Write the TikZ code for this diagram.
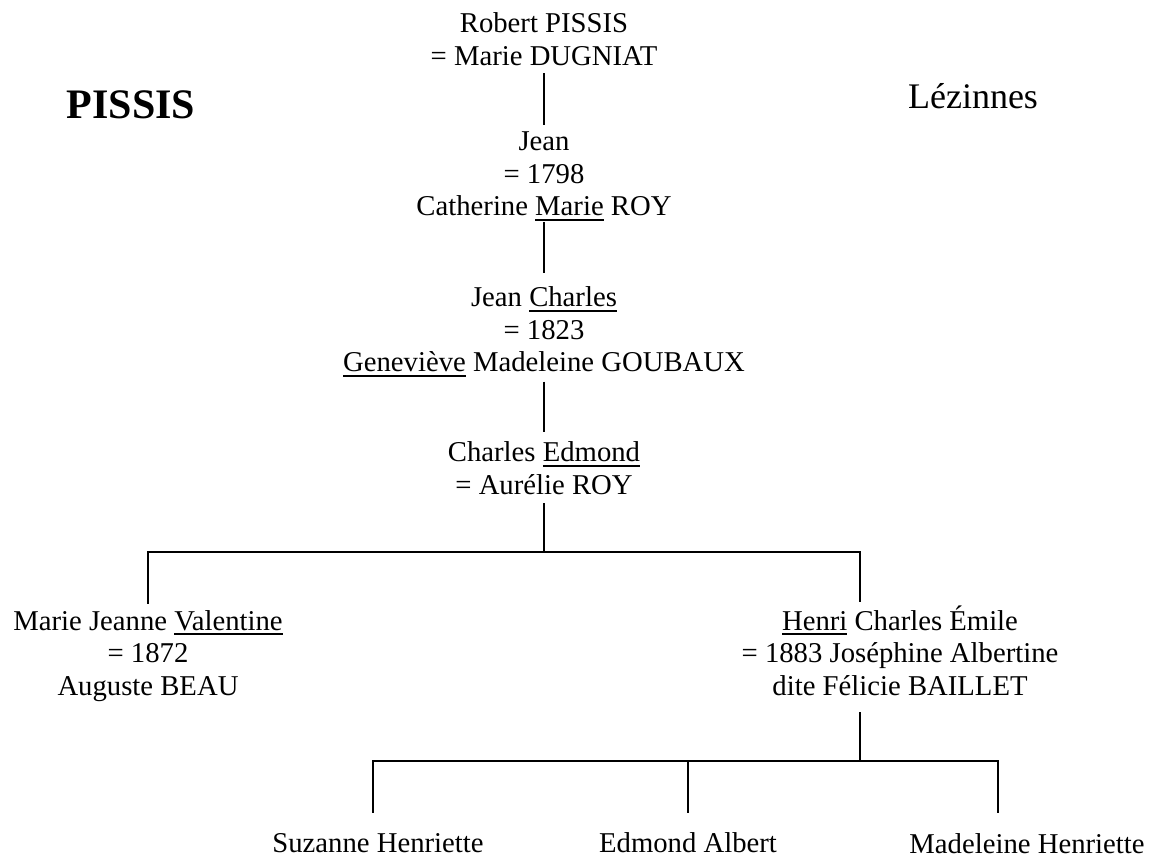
\documentclass[tikz,border=0pt]{standalone}
\usepackage{fontspec}
\setmainfont{Liberation Serif}
\newcommand\ulu[1]{\setbox0=\hbox{#1}\rlap{\rule[-4.6pt]{\wd0}{1.8pt}}\box0\relax}
\newcommand\persontext[1]{\fontsize{28.7}{32.5}\selectfont\begin{tabular}[t]{@{}c@{}}#1\end{tabular}}
\tikzset{
  person/.style={anchor=base, inner sep=0pt, outer sep=0pt, font=\fontsize{28.7}{32.5}\selectfont},
  link/.style={line width=1.6pt, line cap=butt},
}
\begin{document}
\begin{tikzpicture}[x=1pt, y=-1pt]
\useasboundingbox[fill=white] (0,0) rectangle (1149,858);
% titles
\node[anchor=base, inner sep=0pt, font=\fontsize{42}{48}\selectfont\bfseries] (title) at (131,119) {PISSIS};
\node[anchor=base, inner sep=0pt, font=\fontsize{36}{41}\selectfont] (place) at (973,109) {Lézinnes};
% persons
\node[person] (robert) at (544,33) {\persontext{Robert PISSIS\\ = Marie DUGNIAT}};
\node[person] (jean) at (544,151) {\persontext{Jean\\ = 1798\\ Catherine \ulu{Marie} ROY}};
\node[person] (jc) at (544,307) {\persontext{Jean \ulu{Charles}\\ = 1823\\ \ulu{Geneviève} Madeleine GOUBAUX}};
\node[person] (ce) at (544,462) {\persontext{Charles \ulu{Edmond}\\ = Aurélie ROY}};
\node[person] (val) at (148,630) {\persontext{Marie Jeanne \ulu{Valentine}\\ = 1872\\ Auguste BEAU}};
\node[person] (henri) at (900,630) {\persontext{\ulu{Henri} Charles Émile\\ = 1883 Joséphine Albertine\\ dite Félicie BAILLET}};
\node[person] (suz) at (378,852) {Suzanne Henriette};
\node[person] (edm) at (688,852) {Edmond Albert};
\node[person] (mad) at (1027,853) {Madeleine Henriette};
% junctions
\coordinate (j1) at (544,552);
\coordinate (j1l) at (148,552);
\coordinate (j1r) at (860,552);
\coordinate (j2) at (860,761);
\coordinate (j2l) at (373,761);
\coordinate (j2m) at (688,761);
\coordinate (j2r) at (998,761);
\coordinate (d2l) at (373,813);
\coordinate (d2m) at (688,813);
\coordinate (d2r) at (998,813);
% connectors
\draw[link, shorten <=-1.75pt, shorten >=3.25pt] (robert.south) -- (jean.north);
\draw[link, shorten <=-3.75pt, shorten >=11.25pt] (jean.south) -- (jc.north);
\draw[link, shorten >=7.25pt] (jc.south) -- (ce.north);
\draw[link, shorten <=-1.25pt] (ce.south) -- (j1);
\draw[link, line cap=rect] (j1l) -- (j1r);
\draw[link, shorten >=3.25pt] (j1l) -- (val.north);
\draw[link, shorten >=3.25pt] (j1r) -- (j1r |- henri.north);
\draw[link, shorten <=7.25pt] (j2 |- henri.south) -- (j2);
\draw[link, line cap=rect] (j2l) -- (j2r);
\draw[link] (j2l) -- (d2l);
\draw[link] (j2m) -- (d2m);
\draw[link] (j2r) -- (d2r);
\end{tikzpicture}
\end{document}
